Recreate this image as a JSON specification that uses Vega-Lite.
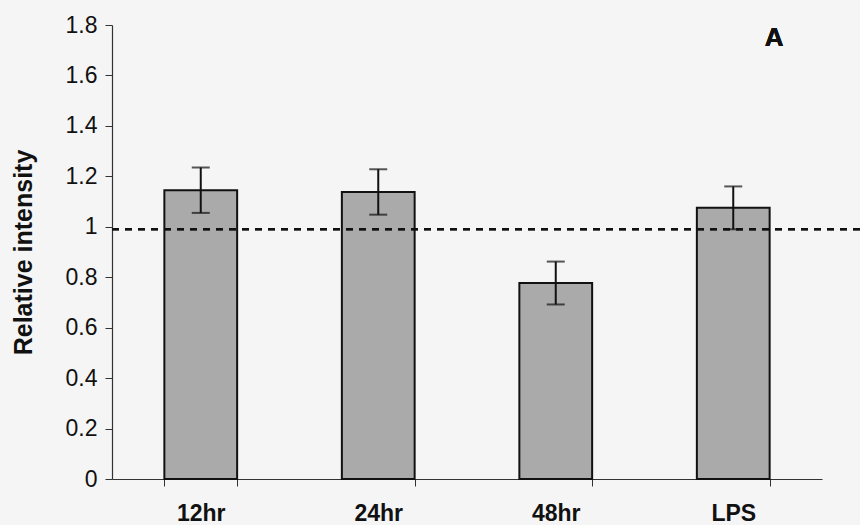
{
  "$schema": "https://vega.github.io/schema/vega-lite/v6.json",
  "width": 748,
  "height": 454,
  "autosize": {"type": "none"},
  "padding": {"left": 112, "top": 25, "right": 0, "bottom": 46},
  "background": "#f5f5f5",
  "config": {
    "view": {"stroke": null},
    "font": "Liberation Sans",
    "axis": {"grid": false, "domainColor": "#333", "tickColor": "#333", "labelColor": "#111", "titleColor": "#111"}
  },
  "data": {
    "values": [
      {"group": "12hr", "value": 1.145, "err": 0.09},
      {"group": "24hr", "value": 1.138, "err": 0.09},
      {"group": "48hr", "value": 0.777, "err": 0.085},
      {"group": "LPS", "value": 1.075, "err": 0.085}
    ]
  },
  "layer": [
    {
      "mark": {"type": "bar", "fill": "#aaaaaa", "stroke": "#111", "strokeWidth": 2},
      "encoding": {
        "x": {
          "field": "group",
          "type": "nominal",
          "sort": null,
          "scale": {"range": [0, 710], "paddingInner": 0.59, "paddingOuter": 0.295},
          "axis": {
            "title": null,
            "labelAngle": 0,
            "labelFontSize": 23,
            "labelFontWeight": "bold",
            "labelPadding": 16,
            "tickSize": 7,
            "tickBand": "extent",
            "domainWidth": 1.2
          }
        },
        "y": {
          "field": "value",
          "type": "quantitative",
          "title": "Relative intensity",
          "scale": {"domain": [0, 1.8], "nice": false, "zero": true},
          "axis": {
            "titleFontSize": 25,
            "titleFontWeight": "bold",
            "titlePadding": 29,
            "values": [0, 0.2, 0.4, 0.6, 0.8, 1, 1.2, 1.4, 1.6, 1.8],
            "format": ".1~f",
            "labelFontSize": 23,
            "labelPadding": 8,
            "tickSize": 7,
            "domainWidth": 1.2
          }
        }
      }
    },
    {
      "mark": {"type": "rule", "color": "#111", "strokeWidth": 2, "strokeDash": [7, 6]},
      "encoding": {"y": {"datum": 0.99, "type": "quantitative"}}
    },
    {
      "mark": {"type": "errorbar", "color": "#111", "thickness": 2, "size": 18, "ticks": true},
      "encoding": {
        "x": {"field": "group", "type": "nominal", "sort": null},
        "y": {"field": "value", "type": "quantitative", "title": "Relative intensity"},
        "yError": {"field": "err"}
      }
    },
    {
      "mark": {"type": "text", "text": "A", "fontSize": 26, "fontWeight": "bold", "baseline": "top", "dx": 41, "color": "#111"},
      "encoding": {
        "x": {"datum": "LPS"},
        "y": {"datum": 1.8, "type": "quantitative"}
      }
    }
  ]
}
